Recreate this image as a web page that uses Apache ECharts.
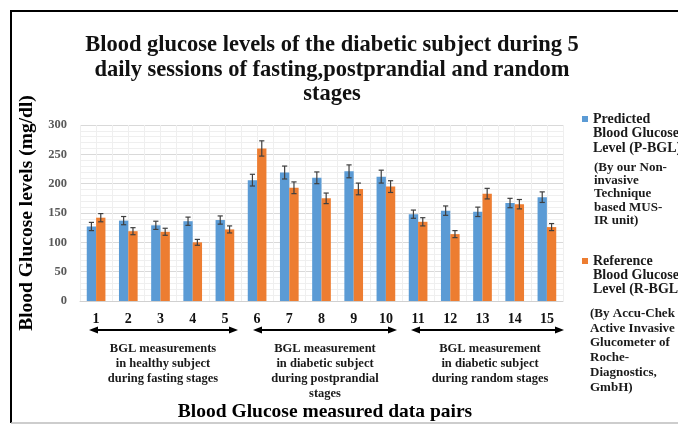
<!DOCTYPE html>
<html>
<head>
<meta charset="utf-8">
<script src="https://cdn.jsdelivr.net/npm/echarts@6/dist/echarts.min.js"></script>
<style>
  html, body { margin: 0; padding: 0; background: #fff; }
  #main { width: 678px; height: 424px; }
</style>
</head>
<body>
<div id="main"></div>
<script>
// data pairs 1..15
var categories = ['1', '2', '3', '4', '5', '6', '7', '8', '9', '10', '11', '12', '13', '14', '15'];
var predicted = [127, 137, 129, 136, 138, 206, 219, 210, 221, 212, 148, 154, 152, 167, 177];
var reference = [142, 119, 118, 100, 122, 260, 193, 175, 191, 195, 135, 114, 183, 165, 126];
var predictedErr = [7, 7, 7, 7, 7, 10, 11, 10, 11, 11, 7, 8, 8, 8, 9];
var referenceErr = [7, 6, 6, 5, 6, 13, 10, 9, 10, 10, 7, 6, 9, 8, 6];
var yTicks = [0, 50, 100, 150, 200, 250, 300];

var serif = 'Liberation Serif';
var barFrac = 0.29; // share of the category band used by one bar

// error bars drawn through the axes
function errorBars(values, errs, side) {
  return {
    type: 'custom',
    z: 10,
    silent: true,
    data: values.map(function (v, i) { return [i, v, errs[i]]; }),
    encode: { x: 0, y: 1 },
    renderItem: function (params, api) {
      var i = api.value(0), v = api.value(1), e = api.value(2);
      var band = api.size([1, 0])[0];
      var dx = side * band * barFrac / 2;
      var hi = api.coord([i, v + e]);
      var lo = api.coord([i, v - e]);
      var x = hi[0] + dx;
      var cw = 2.6;
      var st = { stroke: '#3f3f3f', lineWidth: 1.2 };
      return {
        type: 'group',
        children: [
          { type: 'line', shape: { x1: x, y1: hi[1], x2: x, y2: lo[1] }, style: st },
          { type: 'line', shape: { x1: x - cw, y1: hi[1], x2: x + cw, y2: hi[1] }, style: st },
          { type: 'line', shape: { x1: x - cw, y1: lo[1], x2: x + cw, y2: lo[1] }, style: st }
        ]
      };
    }
  };
}

function arrow(x1, x2, y) {
  var h = 3.5, l = 9;
  return [
    { type: 'line', shape: { x1: x1 + 4, y1: y, x2: x2 - 4, y2: y }, style: { stroke: '#000', lineWidth: 2 } },
    { type: 'polygon', shape: { points: [[x1, y], [x1 + l, y - h], [x1 + l, y + h]] }, style: { fill: '#000' } },
    { type: 'polygon', shape: { points: [[x2, y], [x2 - l, y - h], [x2 - l, y + h]] }, style: { fill: '#000' } }
  ];
}

function groupText(x, y, txt) {
  return {
    type: 'text', x: x, y: y,
    style: {
      text: txt, fill: '#1a1a1a', font: 'bold 12.5px "Liberation Serif"',
      align: 'center', verticalAlign: 'top', lineHeight: 15
    }
  };
}

function blockText(x, y, txt, size, lh) {
  return {
    type: 'text', x: x, y: y,
    style: {
      text: txt, fill: '#1a1a1a', font: 'bold ' + size + 'px "Liberation Serif"',
      align: 'left', verticalAlign: 'top', lineHeight: lh
    }
  };
}

var legendBase = {
  orient: 'vertical',
  left: 582,
  padding: 0,
  icon: 'rect',
  itemWidth: 6,
  itemHeight: 6,
  selectedMode: false,
  formatter: function (n) { return n.split(' ')[0]; },
  textStyle: { fontFamily: serif, fontWeight: 'bold', fontSize: 14, color: '#1a1a1a' }
};

var option = {
  backgroundColor: '#fff',
  animation: false,
  title: {
    text: 'Blood glucose levels of the diabetic subject during 5\ndaily sessions of fasting,postprandial and random\nstages',
    left: 332,
    top: 33,
    padding: 0,
    textAlign: 'center',
    textStyle: { fontFamily: serif, fontWeight: 'bold', fontSize: 22.5, lineHeight: 24.5, color: '#111' }
  },
  legend: [
    Object.assign({}, legendBase, { top: 112, data: ['Predicted Blood Glucose Level (P-BGL)'] }),
    Object.assign({}, legendBase, { top: 254, data: ['Reference Blood Glucose Level (R-BGL)'] })
  ],
  grid: { left: 80, right: 115, top: 125, bottom: 123 },
  xAxis: [
    {
      type: 'category',
      data: categories,
      axisLine: { lineStyle: { color: '#d0d0d0' } },
      axisTick: { show: false },
      axisLabel: { fontFamily: serif, fontWeight: 'bold', fontSize: 14, color: '#111', margin: 11 },
      splitLine: { show: true, lineStyle: { color: '#d9d9d9' } }
    },
    {
      type: 'value',
      min: 0,
      max: 30,
      interval: 1,
      position: 'bottom',
      axisLine: { show: false },
      axisTick: { show: false },
      axisLabel: { show: false },
      splitLine: { show: true, lineStyle: { color: '#efefef' } }
    }
  ],
  yAxis: {
    type: 'value',
    min: yTicks[0],
    max: yTicks[yTicks.length - 1],
    interval: 50,
    name: 'Blood Glucose levels (mg/dl)',
    nameLocation: 'middle',
    nameGap: 39,
    nameTextStyle: { fontFamily: serif, fontWeight: 'bold', fontSize: 19.5, color: '#000' },
    axisLine: { show: false },
    axisTick: { show: false },
    axisLabel: { fontFamily: serif, fontWeight: 'bold', fontSize: 12.5, color: '#595959', margin: 13 },
    splitLine: { lineStyle: { color: '#d9d9d9' } },
    minorTick: { show: false, splitNumber: 5 },
    minorSplitLine: { show: true, lineStyle: { color: '#efefef' } }
  },
  series: [
    {
      name: 'Predicted Blood Glucose Level (P-BGL)',
      type: 'bar',
      data: predicted,
      barWidth: (barFrac * 100) + '%',
      barGap: '0%',
      itemStyle: { color: '#5b9bd5' },
      z: 3
    },
    {
      name: 'Reference Blood Glucose Level (R-BGL)',
      type: 'bar',
      data: reference,
      barWidth: (barFrac * 100) + '%',
      barGap: '0%',
      itemStyle: { color: '#ed7d31' },
      z: 3
    },
    errorBars(predicted, predictedErr, -1),
    errorBars(reference, referenceErr, 1)
  ],
  graphic: [
    // frame
    { type: 'line', shape: { x1: 11, y1: 10, x2: 11, y2: 423 }, style: { stroke: '#000', lineWidth: 2 } },
    { type: 'line', shape: { x1: 10, y1: 11, x2: 678, y2: 11 }, style: { stroke: '#000', lineWidth: 2 } },
    { type: 'line', shape: { x1: 11, y1: 423, x2: 678, y2: 423 }, style: { stroke: '#bdbdbd', lineWidth: 1.5 } },
    // group annotations
    groupText(163, 341, 'BGL measurements\nin healthy subject\nduring fasting stages'),
    groupText(325, 341, 'BGL measurement\nin diabetic subject\nduring postprandial\nstages'),
    groupText(490, 341, 'BGL measurement\nin diabetic subject\nduring random stages'),
    {
      type: 'text', x: 325, y: 412,
      style: {
        text: 'Blood Glucose measured data pairs', fill: '#000',
        font: 'bold 19.5px "Liberation Serif"', align: 'center', verticalAlign: 'middle'
      }
    },
    // legend continuation lines and notes
    blockText(593, 126.5, 'Blood Glucose\nLevel (P-BGL)', 14, 14.5),
    blockText(593, 268, 'Blood Glucose\nLevel (R-BGL)', 14, 14.5),
    blockText(594, 160.5, '(By our Non-\ninvasive\nTechnique\nbased MUS-\nIR unit)', 13, 13.4),
    blockText(590, 306, '(By Accu-Chek\nActive Invasive\nGlucometer of\nRoche-\nDiagnostics,\nGmbH)', 13, 14.8)
  ].concat(arrow(89, 238, 330), arrow(253, 397, 330), arrow(411, 564, 330))
};

var chart = echarts.init(document.getElementById('main'), null, { renderer: 'canvas' });
chart.setOption(option);
</script>
</body>
</html>
